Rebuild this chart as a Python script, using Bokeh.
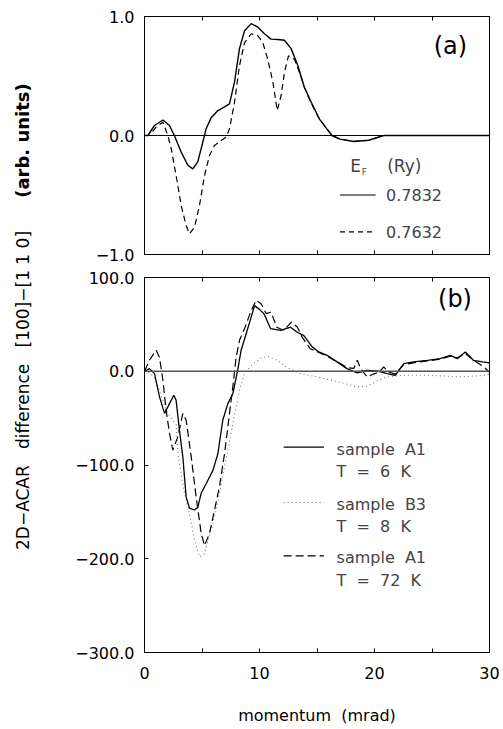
import math
from bokeh.plotting import figure
from bokeh.models import Range1d, FixedTicker, LinearAxis, Span, Label
from bokeh.layouts import row, column
from bokeh.embed import file_html
from bokeh.resources import INLINE

FONT = "DejaVu Sans"
NB = "\u00a0"

# ---------------- data: panel (a) ----------------
xa_solid = [0, 0.29, 0.87, 1.6, 2.17, 2.6, 3.19, 3.77, 4.2, 4.64, 5.07, 5.36, 5.8, 6.38, 6.96,
            7.39, 7.83, 8.26, 8.7, 9.28, 9.86, 10.43, 11.0, 11.6, 12.17, 12.75, 13.33, 13.9,
            14.5, 15.2, 15.9, 16.3, 17.0, 18.2, 19.5, 20.8, 22.0, 25.0, 30.0]
ya_solid = [0, 0, 0.084, 0.13, 0.084, 0, -0.14, -0.25, -0.28, -0.22, -0.056, 0.056, 0.15,
            0.21, 0.24, 0.266, 0.45, 0.73, 0.88, 0.94, 0.91, 0.855, 0.81, 0.807, 0.80, 0.73,
            0.588, 0.406, 0.28, 0.14, 0.05, 0.0, -0.03, -0.05, -0.04, 0.0, 0.0, 0.0, 0.0]
xa_dash = [0, 0.43, 1.0, 1.6, 2.03, 2.32, 2.75, 3.19, 3.62, 3.91, 4.35, 4.78, 5.22, 5.65, 6.09,
           6.67, 7.1, 7.39, 7.83, 8.26, 8.7, 9.28, 9.86, 10.29, 10.72, 11.16, 11.54, 11.88,
           12.17, 12.52, 13.04, 13.48, 13.9, 14.5, 15.2, 15.9, 16.3, 17.0, 18.2, 19.5, 20.8,
           22.0, 25.0, 30.0]
ya_dash = [0, 0, 0.07, 0.112, 0, -0.11, -0.336, -0.588, -0.756, -0.826, -0.77, -0.588,
           -0.336, -0.168, -0.084, -0.042, -0.014, 0.056, 0.28, 0.588, 0.78, 0.855, 0.84,
           0.78, 0.64, 0.45, 0.21, 0.336, 0.53, 0.67, 0.64, 0.53, 0.406, 0.27, 0.14, 0.05,
           0.0, -0.03, -0.05, -0.04, 0.0, 0.0, 0.0, 0.0]
ya_ticks = [-1.0, 0.0, 1.0]
ya_labels = ["\u22121.0", "0.0", "1.0"]
legend_a = ["0.7832", "0.7632"]

# ---------------- data: panel (b) ----------------
xb_a1_6k = [0, 0.43, 0.87, 1.3, 1.74, 2.17, 2.55, 2.75, 3.04, 3.33, 3.62, 3.91, 4.35, 4.64,
            4.93, 5.36, 5.94, 6.38, 6.81, 7.25, 7.68, 8.1, 8.4, 8.84, 9.28, 9.57, 10.0, 10.38,
            10.96, 11.83, 12.7, 13.28, 13.86, 14.58, 15.16, 15.88, 16.75, 17.6, 18.5, 19.36,
            20.2, 21.1, 21.8, 22.55, 23.4, 24.6, 25.7, 26.6, 27.2, 27.9, 28.6, 29.4, 30.0]
yb_a1_6k = [0, 2.8, -2.5, -27, -45, -34.5, -25.6, -31, -63, -91, -134, -146, -148, -145,
            -130, -120, -106, -88, -52, -34.5, -24, 1, 22.4, 40, 58, 70, 66, 61.5, 45.5, 43.7,
            47, 41.6, 38, 26, 20.6, 17, 10, 2.8, -1.8, 1, 0.4, -2.5, -4.3, 8.2, 10, 11.7,
            13.5, 17, 13.5, 20.6, 11.7, 10, 9]
xb_b3_8k = [0, 0.5, 1.0, 1.5, 2.0, 2.4, 2.75, 2.9, 3.4, 3.91, 4.35, 4.78, 5.2, 5.65, 6.23,
            6.96, 7.68, 8.26, 8.7, 9.28, 10.14, 10.7, 11.5, 12.4, 13.56, 15.0, 16.75, 18.5,
            19.36, 20.1, 21.1, 22.5, 24.6, 27.5, 29.7, 30.0]
yb_b3_8k = [0, -2, -10, -28, -44, -52, -56, -88, -125, -152, -180, -198, -195, -176, -148,
            -102, -56, -20, -2.5, 6.4, 14, 16, 12, 4, -2.5, -6, -11, -16.7, -16, -11, -6,
            -4.3, -4.3, -6, -4.3, -3]
xb_a1_72k = [0, 0.43, 1.01, 1.3, 1.6, 1.88, 2.17, 2.46, 2.9, 3.33, 3.62, 4.06, 4.49, 4.93,
             5.22, 5.65, 6.09, 6.52, 6.96, 7.39, 7.68, 7.97, 8.26, 8.7, 9.28, 9.71, 10.14,
             10.58, 11.0, 11.5, 12.1, 12.8, 13.3, 13.7, 14.4, 15.16, 15.88, 16.75, 17.6,
             18.2, 18.5, 18.8, 19.36, 19.9, 20.4, 20.8, 21.2, 21.8, 22.55, 23.4, 24.6,
             25.7, 26.6, 27.2, 27.9, 28.6, 29.5, 30.0]
yb_a1_72k = [0, 11.7, 22.4, 15, -9.6, -41.6, -66, -84, -70, -45, -52, -91, -134, -173,
             -186, -173, -148, -123, -88, -45, -16.7, 15, 33, 45.5, 65, 75.7, 72, 61.5, 63,
             47, 43.7, 52.6, 47, 36.6, 24, 20, 16, 10, 4, 3, 11.7, 2.8, -6, -3, -1, 4.6,
             -0.7, -3, 7, 9, 11, 13, 16, 14, 19, 12, 4.6, -1]
yb_ticks = [-300.0, -200.0, -100.0, 0.0, 100.0]
yb_labels = ["\u2212300.0", "\u2212200.0", "\u2212100.0", "0.0", "100.0"]
legend_b = [("sample" + NB * 2 + "A1", "T" + NB * 2 + "=" + NB * 2 + "6" + NB * 2 + "K"),
            ("sample" + NB * 2 + "B3", "T" + NB * 2 + "=" + NB * 2 + "8" + NB * 2 + "K"),
            ("sample" + NB * 2 + "A1", "T" + NB * 2 + "=" + NB * 2 + "72" + NB * 2 + "K")]

x_major = [0, 10, 20, 30]
x_minor = [5, 15, 25]
x_all = [0, 5, 10, 15, 20, 25, 30]

# ---------------- figures ----------------
W_LEFT = 48
W_MAIN = 455
H_A = 266
H_B = 463
H_TOTAL = H_A + H_B


def base_fig(h, ylo, yhi, bl, br, bt, bb):
    p = figure(width=W_MAIN, height=h, x_range=Range1d(0, 30), y_range=Range1d(ylo, yhi),
               output_backend="svg", toolbar_location=None, x_axis_location=None,
               y_axis_location="left",
               min_border_left=bl, min_border_right=br, min_border_top=bt,
               min_border_bottom=bb)
    p.grid.visible = False
    p.background_fill_color = "white"
    p.border_fill_color = "white"
    p.outline_line_color = "black"
    p.outline_line_width = 1
    return p


def tick_style(ax):
    ax.axis_line_color = "black"
    ax.major_tick_in = 4
    ax.major_tick_out = 0
    ax.minor_tick_in = 4
    ax.minor_tick_out = 0
    ax.major_tick_line_color = "black"
    ax.minor_tick_line_color = "black"
    ax.major_label_text_font = FONT
    ax.major_label_text_color = "black"
    ax.major_label_text_font_size = "16px"


def blank_x_axis(p, place):
    ax = LinearAxis(ticker=FixedTicker(ticks=[], minor_ticks=x_all))
    tick_style(ax)
    ax.major_label_standoff = 0
    p.add_layout(ax, place)
    return ax


def y_axis(p, ticks, labels):
    ax = p.yaxis[0]
    ax.ticker = FixedTicker(ticks=ticks)
    ax.major_label_overrides = dict(zip(ticks, labels))
    tick_style(ax)
    ax.major_label_standoff = 10
    ax.minor_tick_in = 0


# Panel (a)
pa = base_fig(H_A, -1.0, 1.0, 96, 14, 16, 12)
blank_x_axis(pa, "above")
blank_x_axis(pa, "below")
y_axis(pa, ya_ticks, ya_labels)
pa.add_layout(Span(location=0, dimension="width", line_color="black", line_width=1.2))
pa.line(xa_solid, ya_solid, line_color="black", line_width=1.4)
pa.line(xa_dash, ya_dash, line_color="black", line_width=1.2, line_dash="6 4")
pa.add_layout(Label(x=26.6, y=0.75, text="(a)", text_font=FONT, text_font_size="24px",
                    text_align="center", text_baseline="middle", text_color="black"))
pa.add_layout(Label(x=17.9, y=-0.26, text="E", text_font=FONT, text_font_size="17px",
                    text_align="left", text_baseline="middle"))
pa.add_layout(Label(x=18.9, y=-0.31, text="F", text_font=FONT, text_font_size="9px",
                    text_align="left", text_baseline="middle"))
pa.add_layout(Label(x=21.1, y=-0.26, text="(Ry)", text_font=FONT, text_font_size="17px",
                    text_align="left", text_baseline="middle"))
pa.line([17.0, 20.1], [-0.50, -0.50], line_color="black", line_width=1.2)
pa.line([17.0, 20.1], [-0.81, -0.81], line_color="black", line_width=1.2, line_dash="5 4")
for yv, t in zip([-0.50, -0.81], legend_a):
    pa.add_layout(Label(x=21.0, y=yv, text=t, text_font=FONT, text_font_size="16px",
                        text_align="left", text_baseline="middle"))

# Panel (b)
pb = base_fig(H_B, -300.0, 100.0, 96, 14, 11, 77)
blank_x_axis(pb, "above")
xb_axis = LinearAxis(ticker=FixedTicker(ticks=x_major, minor_ticks=x_minor))
tick_style(xb_axis)
xb_axis.major_label_standoff = 14
xb_axis.axis_label = "momentum" + NB * 2 + "(mrad)"
xb_axis.axis_label_text_font = FONT
xb_axis.axis_label_text_font_style = "normal"
xb_axis.axis_label_text_font_size = "16px"
xb_axis.axis_label_text_color = "black"
xb_axis.axis_label_standoff = 24
pb.add_layout(xb_axis, "below")
y_axis(pb, yb_ticks, yb_labels)
pb.add_layout(Span(location=0, dimension="width", line_color="#555555", line_width=1.5))
pb.line(xb_b3_8k, yb_b3_8k, line_color="#777777", line_width=1.1, line_dash="1 3")
pb.line(xb_a1_72k, yb_a1_72k, line_color="black", line_width=1.2, line_dash="8 4")
pb.line(xb_a1_6k, yb_a1_6k, line_color="black", line_width=1.3)
pb.add_layout(Label(x=27.0, y=77, text="(b)", text_font=FONT, text_font_size="24px",
                    text_align="center", text_baseline="middle", text_color="black"))
leg_y = [-81, -140, -197]
pb.line([12.1, 15.6], [leg_y[0]] * 2, line_color="black", line_width=1.2)
pb.line([12.1, 15.6], [leg_y[1]] * 2, line_color="#777777", line_width=1.1, line_dash="1 3")
pb.line([12.1, 15.6], [leg_y[2]] * 2, line_color="black", line_width=1.2, line_dash="8 4")
for yv, (t1, t2) in zip(leg_y, legend_b):
    pb.add_layout(Label(x=16.7, y=yv - 2, text=t1, text_font=FONT, text_font_size="16px",
                        text_align="left", text_baseline="middle"))
    pb.add_layout(Label(x=16.7, y=yv - 26, text=t2, text_font=FONT, text_font_size="16px",
                        text_align="left", text_baseline="middle"))

# Left column: shared y-axis title
py_ = figure(width=W_LEFT, height=H_TOTAL, x_range=Range1d(0, W_LEFT),
             y_range=Range1d(0, H_TOTAL), output_backend="svg", toolbar_location=None,
             x_axis_location=None, y_axis_location=None,
             min_border=0, min_border_left=0, min_border_right=0, min_border_top=0,
             min_border_bottom=0)
py_.grid.visible = False
py_.outline_line_color = None
py_.add_layout(Label(x=22, y=H_TOTAL - 390, angle=math.pi / 2,
                     text="2D\u2212ACAR" + NB * 3 + "difference" + NB * 3 + "[100]\u2212[1" + NB + "1" + NB + "0]",
                     text_font=FONT, text_font_size="17px", text_align="center",
                     text_baseline="middle", text_color="black"))
py_.add_layout(Label(x=22, y=H_TOTAL - 140, angle=math.pi / 2,
                     text="(arb." + NB + "units)", text_font=FONT, text_font_size="18px",
                     text_font_style="bold", text_align="center", text_baseline="middle",
                     text_color="black"))

layout = row(py_, column(pa, pb))
open("out.html", "w").write(file_html(layout, INLINE))
